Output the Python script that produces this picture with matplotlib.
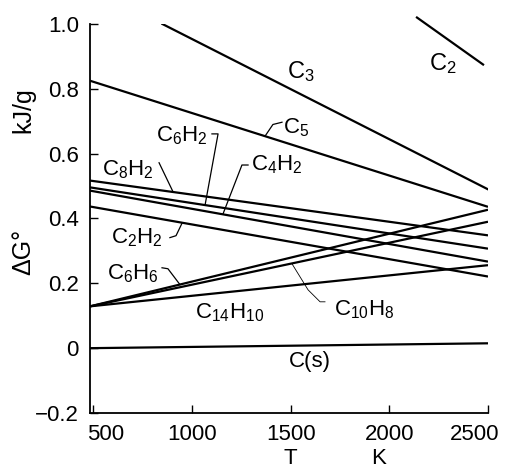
import matplotlib
matplotlib.use("Agg")
import matplotlib.pyplot as plt
import matplotlib.transforms as mtransforms

plt.rcParams['font.family'] = ['Liberation Sans', 'DejaVu Sans']
plt.rcParams['mathtext.fontset'] = 'custom'
plt.rcParams['mathtext.rm'] = 'Liberation Sans'
plt.rcParams['mathtext.it'] = 'Liberation Sans'

# temperature (K) end points of each line, and dG (kJ/g) at those points
T = [483, 2500]
C5 = [0.825, 0.436]
C8H2 = [0.517, 0.348]
C6H2 = [0.496, 0.307]
C4H2 = [0.486, 0.267]
C2H2 = [0.437, 0.221]
C6H6 = [0.129, 0.427]
C10H8 = [0.129, 0.390]
C14H10 = [0.129, 0.256]
Cs = [0.0, 0.015]
T_C3 = [850, 2500]
C3 = [1.0, 0.49]
T_C2 = [2140, 2475]
C2 = [1.02, 0.875]

xticks = [500, 1000, 1500, 2000, 2500]
yticks = [-0.2, 0, 0.2, 0.4, 0.6, 0.8, 1.0]
ylabels = ['\u22120.2', '0', '0.2', '0.4', '0.6', '0.8', '1.0']

fig = plt.figure(figsize=(5.07, 4.70), dpi=100)
ax = fig.add_axes([90 / 507, 57 / 470, 398 / 507, 389 / 470])

lw = 1.6
for y in [C5, C8H2, C6H2, C4H2, C2H2, C6H6, C10H8, C14H10, Cs]:
    ax.plot(T, y, color='black', lw=lw, solid_capstyle='butt')
ax.plot(T_C3, C3, color='black', lw=lw)
ax.plot(T_C2, C2, color='black', lw=lw, clip_on=False)

# leader lines
thin = 0.9
ax.plot([833, 904], [0.572, 0.482], color='black', lw=thin)
ax.plot([1101, 1132, 1066], [0.661, 0.661, 0.441], color='black', lw=thin)
ax.plot([1284, 1253, 1157], [0.565, 0.565, 0.414], color='black', lw=thin)
ax.plot([1370, 1410, 1456], [0.654, 0.69, 0.697], color='black', lw=thin)
ax.plot([888, 919, 949], [0.341, 0.347, 0.385], color='black', lw=thin)
ax.plot([848, 878, 939], [0.248, 0.245, 0.196], color='black', lw=thin)
ax.plot([1507, 1588, 1649, 1674], [0.26, 0.18, 0.143, 0.143], color='black', lw=0.6)

fs = 16
lab = dict(fontsize=fs, ha='center', va='center')
ax.text(1552, 0.852, r'$\mathregular{C_3}$', fontsize=17, ha='center', va='center')
ax.text(2272, 0.877, r'$\mathregular{C_2}$', fontsize=17, ha='center', va='center')
ax.text(1462, 0.68, r'$\mathregular{C_5}$', fontsize=fs, ha='left', va='center')
ax.text(947, 0.655, r'$\mathregular{C_6H_2}$', **lab)
ax.text(673, 0.55, r'$\mathregular{C_8H_2}$', **lab)
ax.text(1428, 0.565, r'$\mathregular{C_4H_2}$', **lab)
ax.text(719, 0.34, r'$\mathregular{C_2H_2}$', **lab)
ax.text(698, 0.23, r'$\mathregular{C_6H_6}$', **lab)
ax.text(1193, 0.11, r'$\mathregular{C_{14}H_{10}}$', **lab)
ax.text(1872, 0.12, r'$\mathregular{C_{10}H_8}$', **lab)
ax.text(1598, -0.04, 'C(s)', **lab)

ax.set_xlim(483, 2500)
ax.set_ylim(-0.2, 1.0)
ax.set_xticks(xticks)
ax.set_yticks(yticks)
ax.set_yticklabels(ylabels)
ax.spines['top'].set_visible(False)
ax.spines['right'].set_visible(False)
ax.spines['left'].set_linewidth(1.3)
ax.spines['bottom'].set_linewidth(1.3)
ax.tick_params(direction='in', length=6, width=1.0, labelsize=fs, pad=8)

# the end labels sit a little inside the axis corners
xl = ax.get_xticklabels()
xl[0].set_transform(xl[0].get_transform() + mtransforms.ScaledTranslation(12 / 100, 0, fig.dpi_scale_trans))
xl[-1].set_transform(xl[-1].get_transform() + mtransforms.ScaledTranslation(-13 / 100, 0, fig.dpi_scale_trans))

fig.text(23 / 507, 1 - 110 / 470, 'kJ/g', rotation=90, fontsize=18, ha='center', va='center')
fig.text(23 / 507, 1 - 252 / 470, '\u0394G\u00b0', rotation=90, fontsize=18, ha='center', va='center')
fig.text(290 / 507, 1 - 458 / 470, 'T', fontsize=fs, ha='center', va='center')
fig.text(379 / 507, 1 - 458 / 470, 'K', fontsize=fs, ha='center', va='center')

fig.savefig('out.png', dpi=100)
